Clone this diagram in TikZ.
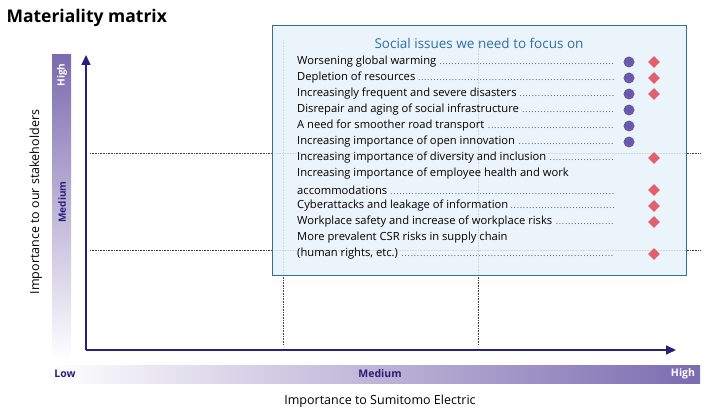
\documentclass[tikz,border=0pt]{standalone}
\usepackage{fontspec}
\setmainfont{Open Sans}
\usetikzlibrary{arrows.meta,shapes.geometric}
\definecolor{navy}{HTML}{2A1F7A}
\definecolor{barpurple}{HTML}{7B6BB0}
\definecolor{boxfill}{HTML}{E9F2FA}
\definecolor{boxline}{HTML}{2C6FA8}
\definecolor{dotc}{HTML}{6A5BA8}
\definecolor{diac}{HTML}{E0606E}
\newcommand{\itm}[1]{\makebox[318pt][l]{#1\,{\scriptsize\dotfill}}}
\begin{document}
\begin{tikzpicture}[x=1pt,y=-1pt,
  item/.style={anchor=west,inner sep=0pt,font=\fontsize{11.2}{13}\selectfont},
  circ/.style={circle,fill=dotc,minimum size=11pt,inner sep=0pt},
  diam/.style={diamond,fill=diac,minimum size=12pt,inner sep=0pt,shape aspect=1},
  guide/.style={densely dotted,black!75,line width=0.6pt},
  axis/.style={navy,line width=1.6pt,-{Triangle[length=10pt,width=9pt]}}]
\useasboundingbox (0,0) rectangle (709,419);
\node[anchor=west,font=\fontsize{17.5}{20}\selectfont\bfseries] (title) at (3,18) {Materiality matrix};
% gradient bars
\shade[top color=barpurple,bottom color=white] (52,55) rectangle (71,360);
\shade[left color=white,right color=barpurple] (50,365) rectangle (700,383);
\node[rotate=90,text=white,font=\fontsize{10}{12}\selectfont\bfseries] (yh) at (62,75) {High};
\node[rotate=90,text=navy,font=\fontsize{10}{12}\selectfont\bfseries] (ym) at (62,202) {Medium};
\node[text=navy,font=\fontsize{10.5}{12}\selectfont\bfseries] (xl) at (65,374) {Low};
\node[text=navy,font=\fontsize{10.5}{12}\selectfont\bfseries] (xm) at (380,374) {Medium};
\node[text=white,font=\fontsize{10.5}{12}\selectfont\bfseries] (xh) at (683,374) {High};
\node[rotate=90,font=\fontsize{12.5}{15}\selectfont] (ylab) at (36,202) {Importance to our stakeholders};
\node[font=\fontsize{12.5}{15}\selectfont] (xlab) at (380,401) {Importance to Sumitomo Electric};
% guides
\draw[guide] (90,153) -- (700,153);
\draw[guide] (90,250) -- (700,250);
\draw[guide] (283,40) -- (283,345);
\draw[guide] (478,40) -- (478,345);
% box
\node[draw=boxline,line width=1.3pt,fill=boxfill,fill opacity=0.85,minimum width=414pt,minimum height=250pt,anchor=north west,inner sep=0pt] (box) at (272,25) {};
% axes
\coordinate (o) at (86,350);
\coordinate (ytop) at (86,55);
\coordinate (xend) at (676,350);
\draw[axis] (o) -- (ytop);
\draw[axis] (o) -- (xend);
\node[text=boxline,font=\fontsize{13.5}{16}\selectfont] (bt) at (479,43) {Social issues we need to focus on};
\node[item] (i1) at (297,62) {\itm{Worsening global warming}};
\node[item] (i2) at (297,78) {\itm{Depletion of resources}};
\node[item] (i3) at (297,94) {\itm{Increasingly frequent and severe disasters}};
\node[item] (i4) at (297,110) {\itm{Disrepair and aging of social infrastructure}};
\node[item] (i5) at (297,126) {\itm{A need for smoother road transport}};
\node[item] (i6) at (297,142) {\itm{Increasing importance of open innovation}};
\node[item] (i7) at (297,158) {\itm{Increasing importance of diversity and inclusion}};
\node[item] (i8) at (297,174) {Increasing importance of employee health and work};
\node[item] (i9) at (297,190) {\itm{accommodations}};
\node[item] (i10) at (297,206) {\itm{Cyberattacks and leakage of information}};
\node[item] (i11) at (297,222) {\itm{Workplace safety and increase of workplace risks}};
\node[item] (i12) at (297,238) {More prevalent CSR risks in supply chain};
\node[item] (i13) at (297,254) {\itm{(human rights, etc.)}};
\foreach \y [count=\i] in {62,78,94,110,126,142} \node[circ] (c\i) at (629,\y) {};
\foreach \y [count=\i] in {62,78,94,158,190,206,222,254} \node[diam] (d\i) at (654,\y) {};
\end{tikzpicture}
\end{document}
